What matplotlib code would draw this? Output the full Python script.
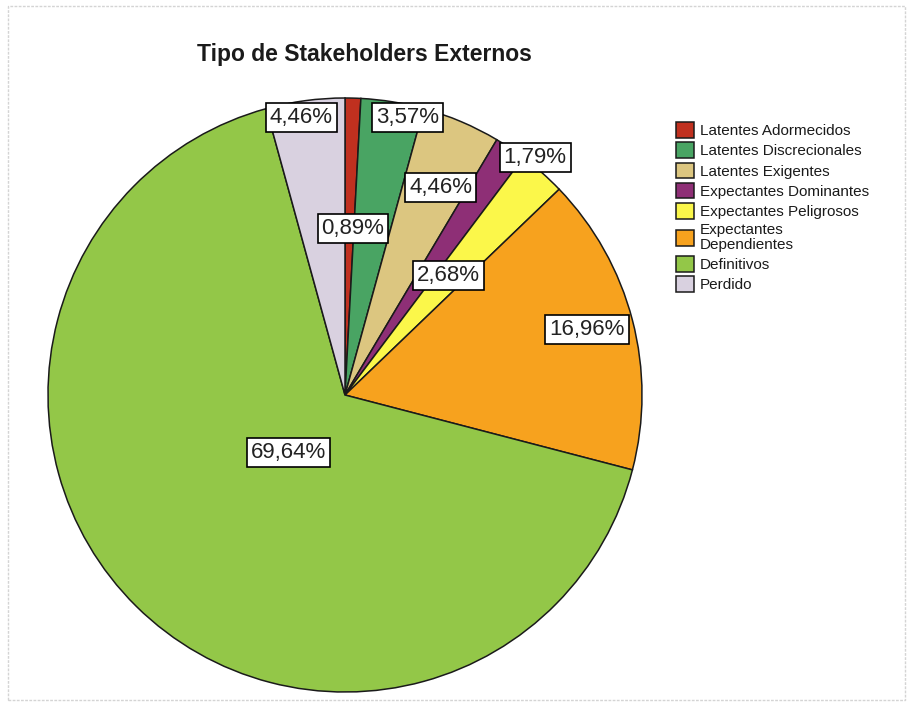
import matplotlib.pyplot as plt
from matplotlib.patches import Rectangle

plt.rcParams['font.family'] = ['Liberation Sans', 'DejaVu Sans']

# Porcentajes sobre casos válidos; "Perdido" va aparte
categorias = ['Latentes Adormecidos', 'Latentes Discrecionales', 'Latentes Exigentes',
              'Expectantes Dominantes', 'Expectantes Peligrosos',
              'Expectantes\nDependientes', 'Definitivos', 'Perdido']
porcentajes = [0.89, 3.57, 4.46, 1.79, 2.68, 16.96, 69.64, 4.46]
colores = ['#c0301f', '#49a463', '#dcc680', '#8e2f76', '#fbf74a',
           '#f7a21e', '#93c748', '#d9d1e0']

# ubicación de cada etiqueta (coordenadas del pie, radio 1)
pos_etiquetas = [(0.027, 0.559), (0.212, 0.936), (0.323, 0.697), (0.640, 0.798),
                 (0.347, 0.401), (0.815, 0.219), (-0.189, -0.195), (-0.148, 0.936)]

W, H = 912, 704
fig = plt.figure(figsize=(W / 100, H / 100), dpi=100)

# centro del pie en (345, 395) px, radio 297 px
cx, cy, R = 345, 395, 297
ax = fig.add_axes([(cx - R) / W, (H - cy - R) / H, 2 * R / W, 2 * R / H])
cunas, _ = ax.pie(porcentajes, colors=colores, startangle=90, counterclock=False,
                  wedgeprops=dict(edgecolor='#1a1a1a', linewidth=1.1))
ax.set_xlim(-1, 1)
ax.set_ylim(-1, 1)
ax.set_aspect('auto')

for v, (x, y) in zip(porcentajes, pos_etiquetas):
    ax.text(x, y, f"{v:.2f}".replace('.', ',') + '%', ha='center', va='center',
            fontsize=16, color='#222222',
            bbox=dict(boxstyle='square,pad=0.18', fc='white', ec='black', lw=1.2))

fig.text(364 / W, 1 - 55 / H, 'Tipo de Stakeholders Externos', ha='center', va='center',
         fontsize=16.5, fontweight='bold', color='#1a1a1a')

leg = fig.legend(cunas, categorias, loc='upper left',
                 bbox_to_anchor=(676 / W, 1 - 122 / H), frameon=False,
                 fontsize=11, handlelength=1.2, handleheight=1.2,
                 handletextpad=0.35, labelspacing=0.28, borderpad=0, borderaxespad=0)
for t in leg.get_texts():
    t.set_color('#1a1a1a')
    t.set_linespacing(1.05)

# marco gris claro alrededor del gráfico
fig.patches.append(Rectangle((8 / W, 4 / H), 897 / W, 694 / H, transform=fig.transFigure,
                             fill=False, ec='#d4d4d4', lw=1.0, ls=(0, (2, 1))))

fig.savefig('out.png', dpi=100)
